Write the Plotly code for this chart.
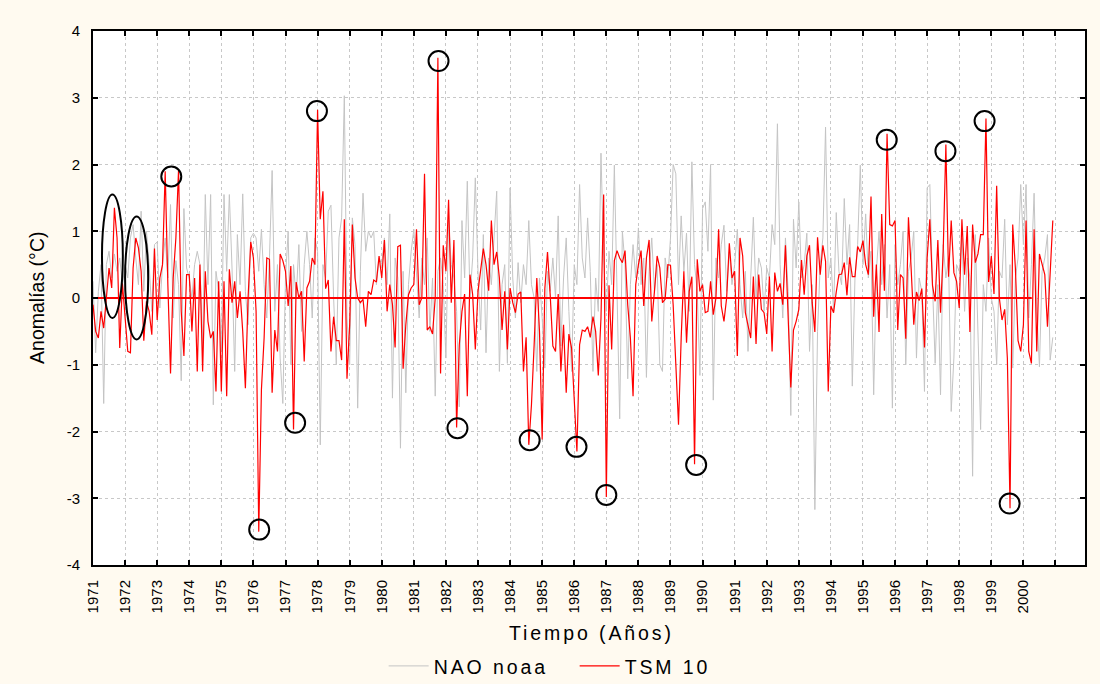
import plotly.graph_objects as go

START_YEAR = 1971

# TSM 10 monthly anomalies (°C), Jan 1971 - Dec 2000
TSM10 = [
    -0.10, -0.50, -0.60, -0.20, -0.45, 0.00, 0.45, 0.15, 1.35, 0.90, -0.75, 0.22,   # 1971
    -0.25, -0.80, -0.82, 0.45, 0.90, 0.75, 0.40, -0.64, -0.05, -0.20, -0.55, 0.74,  # 1972
    -0.33, 0.30, 0.50, 1.90, 0.20, -1.13, 0.30, 0.90, 1.92, -0.20, -0.87, 0.35,     # 1973
    0.35, -0.50, 0.30, -1.10, 0.50, -1.10, 0.40, -0.35, -0.60, -0.50, -1.40, 0.25,  # 1974
    -1.40, 0.25, -1.47, 0.43, -0.07, 0.25, -0.30, 0.10, -0.50, -1.35, 0.00, 0.84,   # 1975
    0.60, -0.20, -3.50, -1.37, -0.60, 0.60, 0.58, -1.42, -0.48, -0.80, 0.66, 0.56,  # 1976
    0.40, -0.12, 0.48, -1.97, 0.24, 0.00, 0.10, -0.95, 0.15, 0.25, 0.60, 0.50,      # 1977
    2.82, 1.18, 1.60, 0.14, 0.27, -0.80, -0.28, -0.64, -0.64, -0.93, 1.18, -1.21,   # 1978
    -0.40, 1.10, 0.30, 0.00, -0.07, -0.02, -0.43, 0.10, 0.05, 0.27, 0.24, 0.63,     # 1979
    0.30, 0.87, -0.20, 0.20, -0.10, -0.74, 0.77, 0.79, -1.06, -0.40, 0.05, 0.15,    # 1980
    0.20, 1.03, -0.10, 0.00, 1.86, -0.48, -0.43, -0.54, 0.00, 3.60, -1.13, 0.79,    # 1981
    0.40, 1.47, -0.07, 0.87, -1.94, -0.70, -0.20, 0.06, -1.47, 0.35, 0.05, -0.77,   # 1982
    0.10, 0.45, 0.74, 0.50, 0.11, 1.16, 0.50, 0.69, 0.30, -0.48, 0.10, -0.77,       # 1983
    0.15, -0.07, -0.22, 0.06, 0.09, -1.10, -0.59, -2.20, -1.60, -0.70, 0.30, -0.50, # 1984
    -2.12, 0.14, 0.69, 0.05, -0.72, -0.80, 0.06, -1.10, -0.40, -1.42, -0.54, -0.75, # 1985
    -1.50, -2.30, -0.70, -0.48, -0.50, -0.43, -0.59, -0.28, -0.50, -1.16, -0.30, 1.55,  # 1986
    -2.98, 0.19, -0.77, 0.56, 0.71, 0.60, 0.53, 0.71, -0.10, -0.60, -1.47, 0.20,    # 1987
    0.50, 0.71, -0.12, 0.60, 0.87, -0.35, 0.10, 0.63, 0.45, -0.07, -0.02, 0.50,     # 1988
    0.49, -0.10, -1.00, -1.90, -0.60, 0.40, -0.67, 0.10, 0.32, -2.49, 0.58, 0.10,   # 1989
    0.20, -0.22, -0.20, 0.25, -0.25, 0.00, 1.03, -0.12, -0.35, 0.00, 0.82, 0.30,    # 1990
    0.40, -0.87, 0.90, 0.63, -0.22, -0.43, -0.60, 0.32, -0.69, 0.35, -0.17, -0.22,  # 1991
    -0.54, 0.32, -0.80, 0.38, 0.10, 0.22, -0.10, 0.79, -0.33, -1.34, -0.48, -0.35,  # 1992
    -0.17, 0.57, 0.05, 0.63, 0.79, -0.07, -0.51, 0.91, 0.35, 0.79, 0.55, -1.40,     # 1993
    -0.12, -0.22, 0.09, 0.35, 0.36, 0.53, 0.04, 0.61, 0.32, 0.32, 0.77, 0.69,       # 1994
    0.86, 0.50, 0.35, 1.52, -0.28, 0.50, -0.51, 1.26, 0.11, 2.46, 1.10, 1.08,       # 1995
    1.16, -0.48, 0.35, 0.30, -0.61, 1.21, 0.45, -0.40, 0.09, -0.04, 0.14, -0.74,    # 1996
    0.60, 1.18, 0.19, -0.05, 0.87, -0.22, 0.70, 2.30, 0.32, 1.16, 0.38, 0.25,       # 1997
    -0.15, 1.18, 0.35, 1.08, -0.51, 1.10, 0.53, 0.66, 0.95, 0.95, 2.69, 0.24,       # 1998
    0.63, 0.06, 1.68, 0.00, -0.33, -0.17, -0.90, -3.15, 1.10, 0.45, -0.64, -0.80,   # 1999
    -0.40, 1.16, -0.80, -0.98, 1.03, -0.80, 0.66, 0.50, 0.35, -0.43, 0.30, 1.16,    # 2000
]

# NAO (noaa) monthly index, Jan 1971 - Dec 2000
NAO = [
    0.25, -0.82, 0.10, 0.50, -1.58, 0.50, 0.70, 0.30, 0.66, 0.40, 0.60, 0.20,       # 1971
    0.50, 0.30, 0.90, 1.10, 0.60, 0.20, 1.30, 0.10, 1.00, 0.50, -0.20, 0.80,        # 1972
    0.84, -0.15, 0.50, 0.90, 0.30, 1.40, -0.30, 0.56, 0.20, -1.24, 1.34, 0.45,      # 1973
    0.30, 0.00, 0.50, 0.70, 0.50, -0.75, 1.55, 0.20, 1.55, -1.60, 0.40, 0.10,       # 1974
    -0.80, 1.55, 0.40, 1.55, 0.45, -1.10, 0.95, 0.20, 1.56, 0.10, -0.40, 0.90,      # 1975
    0.97, 0.90, 0.40, 1.03, 0.20, -0.30, 0.60, 1.91, -0.20, 0.50, -0.90, -1.58,     # 1976
    0.30, 1.00, -1.00, 0.50, 0.00, 0.80, -0.50, 0.50, 1.00, 0.50, -0.30, 0.90,      # 1977
    0.70, -2.20, 0.50, 0.30, 1.30, 1.39, 0.00, -1.00, 0.90, 1.20, 3.03, -0.30,      # 1978
    -1.00, 1.20, 0.80, -1.65, 0.40, 1.57, 0.70, 1.00, 0.90, 1.00, 0.20, 0.60,       # 1979
    0.50, 0.90, 0.20, 1.26, -1.50, 0.60, 0.30, -2.25, 0.40, -1.42, 0.20, 0.70,      # 1980
    1.03, 0.40, -0.30, 0.60, 0.20, 0.90, -0.50, 0.30, -1.47, 0.40, 0.60, 0.20,      # 1981
    -0.90, 1.16, 0.50, 0.30, -0.20, -1.63, 1.16, 0.30, 1.75, 0.00, 0.60, 1.80,      # 1982
    0.40, -0.48, 0.95, -0.82, 0.60, 0.20, 0.90, 1.60, -1.10, 0.20, 0.50, -0.98,     # 1983
    1.65, 0.30, -0.30, 0.53, -0.07, 0.50, 0.20, 1.16, 0.20, 0.00, -1.10, 0.30,      # 1984
    -0.30, -1.05, 0.40, 0.10, 0.60, 0.00, 1.23, -0.72, 0.30, 0.90, -0.20, -1.10,    # 1985
    0.50, 0.20, 1.70, 0.60, 0.30, 1.20, 0.40, -1.10, 0.30, -0.20, 2.17, 0.60,       # 1986
    -0.20, 0.70, 0.20, 1.99, 0.10, -1.81, 1.00, 0.50, -1.21, 0.20, 0.80, 0.30,      # 1987
    1.05, 0.20, 0.60, -1.19, 0.40, 0.90, 0.10, 0.50, -1.00, -1.10, 0.60, 0.30,      # 1988
    0.90, 2.00, 1.86, 0.20, 1.23, 0.40, 0.97, -0.20, 2.04, 0.50, 0.10, -1.16,       # 1989
    1.34, 1.44, 0.70, 2.00, -1.53, 0.60, 0.30, 0.80, 1.09, 0.10, 0.69, 0.20,        # 1990
    0.50, 1.03, 0.20, -0.30, 0.40, -0.80, 0.30, 1.21, 0.00, 0.60, 0.45, -0.20,      # 1991
    0.45, 0.30, 1.10, 0.80, 2.61, 0.50, -0.30, 0.90, 0.10, -1.76, 1.18, 0.45,       # 1992
    1.44, 0.30, 0.50, 0.97, -0.80, 0.20, -3.17, -0.50, 0.50, 0.90, 2.56, 0.30,      # 1993
    0.60, -0.20, 1.28, 0.40, 0.20, 1.49, 0.50, 1.10, -1.32, 0.30, 0.80, 1.99,       # 1994
    0.50, 1.26, 0.30, 0.70, -1.45, 0.40, 1.00, 0.20, 0.80, -0.30, 0.50, -1.65,      # 1995
    0.80, 0.20, 0.50, 1.00, -1.00, 0.40, 0.60, 1.00, -0.90, 0.30, 0.10, -1.40,      # 1996
    1.65, 1.70, 0.20, -0.98, 0.20, -1.45, 0.80, 0.30, 0.60, -1.70, -0.90, 0.50,     # 1997
    0.40, 0.90, -0.20, 0.60, 0.30, -2.67, 0.95, -0.50, -1.97, 0.20, -0.20, 0.90,    # 1998
    0.00, -0.20, -1.00, 0.40, 0.30, 1.18, -0.40, 0.50, -1.05, 0.30, 0.60, 1.70,     # 1999
    0.80, 1.70, -0.30, 0.50, 1.57, -0.20, -1.03, 0.40, 0.60, 0.95, -0.93, -0.59,    # 2000
]

TICK_YEARS = list(range(1971, 2002))
TICK_LABELS = [str(y) for y in range(1971, 2001)] + [""]
Y_TICKS = [-4, -3, -2, -1, 0, 1, 2, 3, 4]

# red reference line at zero
ZERO_X = [1971.0, 2000.26]
ZERO_Y = [0.0, 0.0]

# circled extremes (year, value)
CIRCLE_X = [1973.44, 1976.18, 1977.30, 1977.98, 1981.77, 1982.36, 1984.61,
            1986.07, 1987.00, 1989.80, 1995.74, 1997.57, 1998.79, 1999.57]
CIRCLE_Y = [1.82, -3.47, -1.87, 2.80, 3.55, -1.95, -2.13,
            -2.23, -2.95, -2.50, 2.37, 2.20, 2.65, -3.08]

# ellipses (x0, x1, y0, y1)
ELL_X0 = [1971.28, 1972.00]
ELL_X1 = [1971.93, 1972.72]
ELL_Y0 = [-0.30, -0.62]
ELL_Y1 = [1.55, 1.22]

t_nao = [START_YEAR + i / 12 for i in range(len(NAO))]
t_tsm = [START_YEAR + i / 12 for i in range(len(TSM10))]

FONT = "Liberation Sans, Arial, sans-serif"
SP = '<span style="letter-spacing:2.9px">{}</span>'

fig = go.Figure()
fig.add_trace(go.Scatter(x=t_nao, y=NAO, mode="lines", name=SP.format("NAO noaa"),
                         line=dict(color="#c4c4c4", width=1)))
fig.add_trace(go.Scatter(x=t_tsm, y=TSM10, mode="lines", name=SP.format("TSM 10"),
                         line=dict(color="#ff0000", width=1.2)))
fig.add_trace(go.Scatter(x=ZERO_X, y=ZERO_Y, mode="lines", showlegend=False,
                         line=dict(color="#ff0000", width=2), hoverinfo="skip"))

shapes = []
for cx, cy in zip(CIRCLE_X, CIRCLE_Y):
    shapes.append(dict(type="circle", xref="x", yref="y",
                       xsizemode="pixel", ysizemode="pixel",
                       xanchor=cx, yanchor=cy, x0=-10, x1=10, y0=-10, y1=10,
                       line=dict(color="black", width=2), layer="above"))
for x0, x1, y0, y1 in zip(ELL_X0, ELL_X1, ELL_Y0, ELL_Y1):
    shapes.append(dict(type="circle", xref="x", yref="y", x0=x0, x1=x1, y0=y0, y1=y1,
                       line=dict(color="black", width=2), layer="above"))

axis_common = dict(showline=True, linecolor="black", linewidth=2, mirror="ticks",
                   ticks="inside", ticklen=5, tickwidth=1.5, tickcolor="black",
                   showgrid=True, gridcolor="#c8c8c8", gridwidth=1, griddash="dot",
                   zeroline=False, automargin=False,
                   tickfont=dict(family=FONT, size=15, color="black"))

fig.update_layout(
    width=1100, height=684, autosize=False,
    margin=dict(l=93, r=15, t=31, b=119),
    paper_bgcolor="#fffaf0", plot_bgcolor="white",
    font=dict(family=FONT, color="black"),
    xaxis=dict(range=[1971, 2001.92], tickmode="array", tickvals=TICK_YEARS,
               ticktext=TICK_LABELS, tickangle=-90, ticklabelstandoff=7, **axis_common),
    yaxis=dict(range=[-4, 4], tickmode="array", tickvals=Y_TICKS,
               ticktext=[str(v) for v in Y_TICKS], ticklabelstandoff=8, **axis_common),
    showlegend=True,
    legend=dict(orientation="h", x=0.293, xanchor="left",
                yref="container", y=0.026, yanchor="middle",
                font=dict(family=FONT, size=19.5, color="black"), bgcolor="rgba(0,0,0,0)",
                itemwidth=40, entrywidth=136, traceorder="normal"),
    shapes=shapes,
    annotations=[
        dict(text=SP.format("Tiempo (Años)"), xref="paper", yref="paper",
             x=0.503, y=-0.127, xanchor="center", yanchor="middle", showarrow=False,
             font=dict(family=FONT, size=19.5, color="black")),
        dict(text="Anomalías (°C)", xref="paper", yref="paper", textangle=-90,
             x=-0.0565, y=0.5, xanchor="center", yanchor="middle", showarrow=False,
             font=dict(family=FONT, size=19.5, color="black")),
    ],
)

fig.write_html("out.html")
